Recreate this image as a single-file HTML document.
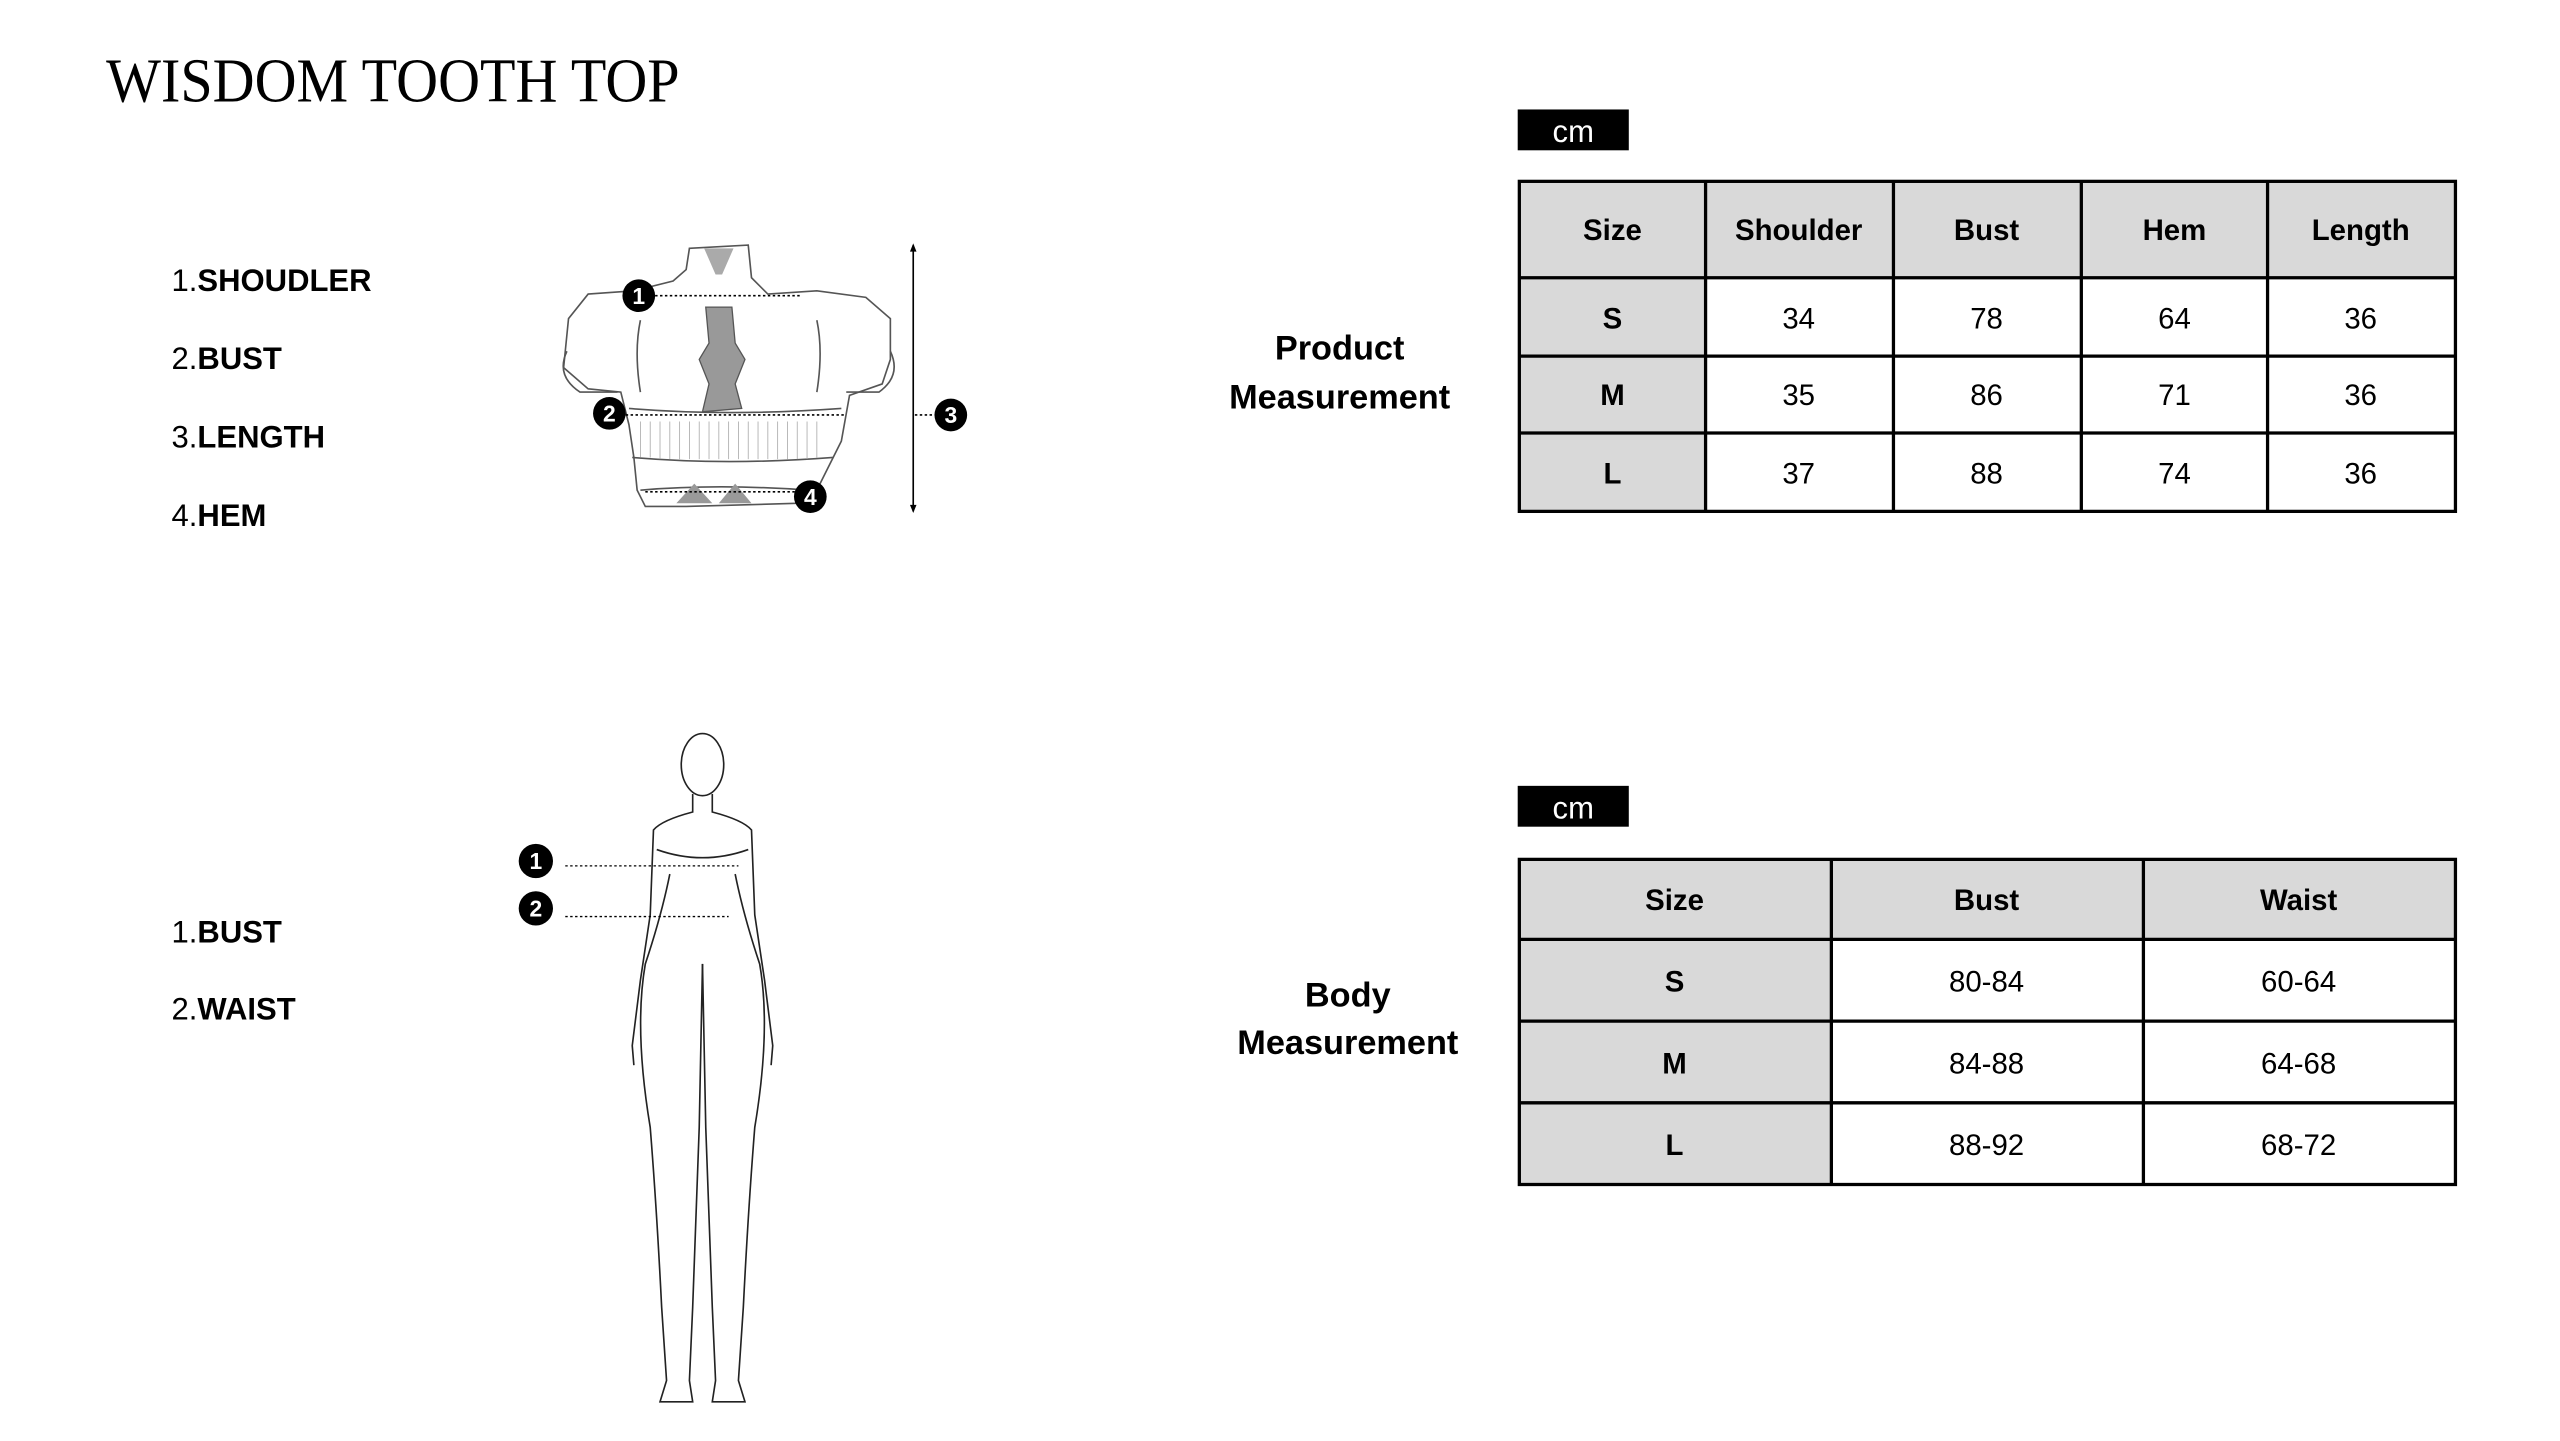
<!DOCTYPE html>
<html><head><meta charset="utf-8"><style>
html,body{margin:0;padding:0;background:#fff;}
svg{display:block}
text{font-family:"Liberation Sans",sans-serif;}
</style></head><body>
<svg width="2560" height="1441" viewBox="0 0 1567 882" preserveAspectRatio="none" xmlns="http://www.w3.org/2000/svg">
<rect width="1567" height="882" fill="#fff"/>
<text x="65" y="62" font-size="38" textLength="351" lengthAdjust="spacingAndGlyphs" style="font-family:'Liberation Serif',serif">WISDOM TOOTH TOP</text>

<g font-size="19">
<text x="105" y="178">1.<tspan font-weight="bold">SHOUDLER</tspan></text>
<text x="105" y="226">2.<tspan font-weight="bold">BUST</tspan></text>
<text x="105" y="274">3.<tspan font-weight="bold">LENGTH</tspan></text>
<text x="105" y="322">4.<tspan font-weight="bold">HEM</tspan></text>
<text x="105" y="577">1.<tspan font-weight="bold">BUST</tspan></text>
<text x="105" y="624">2.<tspan font-weight="bold">WAIST</tspan></text>
</g>

<g fill="none" stroke="#555" stroke-width="1">
<path d="M422 152 L458 150 L460 170 L470 180 L500 178 L530 182 L545 195 L545 220 L540 235 L520 242 L515 270 L505 290 L500 300 L490 308 L420 310 L395 310 L390 300 L388 280 L385 260 L380 240 L360 238 L345 225 L348 195 L360 180 L388 178 L412 172 L420 165 Z" fill="#fff"/>
<path d="M347 215 Q340 230 355 240 L378 240"/>
<path d="M545 215 Q552 230 538 240 L518 240"/>
<path d="M392 196 Q388 215 392 240 M500 196 Q504 215 500 240"/>
<path d="M385 250 Q445 255 515 250 M387 280 Q445 285 510 280"/>
<path d="M392 300 Q440 296 495 300"/>
</g>
<path d="M432 188 L448 188 L450 210 L456 220 L450 235 L454 250 L430 252 L434 235 L428 220 L434 210 Z" fill="#999" stroke="#555" stroke-width="0.8"/>
<path d="M431 152 L449 152 L442 168 L438 168 Z" fill="#aaa"/>
<path d="M414 308 L425 296 L436 308 Z M440 308 L450 296 L460 308 Z" fill="#999"/>
<g stroke="#aaa" stroke-width="0.5">
<path d="M392 258 L392 280 M398 258 L398 280 M404 258 L404 281 M410 258 L410 281 M416 258 L416 281 M422 258 L422 281 M428 258 L428 281 M434 258 L434 281 M440 258 L440 281 M446 258 L446 281 M452 258 L452 281 M458 258 L458 281 M464 258 L464 281 M470 258 L470 281 M476 258 L476 281 M482 258 L482 281 M488 258 L488 281 M494 258 L494 281 M500 258 L500 280"/>
</g>
<g stroke="#000" stroke-width="1" stroke-dasharray="1.5,1.5" fill="none">
<path d="M398 181 L490 181"/>
<path d="M380 254 L518 254"/>
<path d="M395 301 L488 301"/>
<path d="M560 254 L574 254"/>
</g>
<path d="M559 150 L559 313" stroke="#000" stroke-width="1"/>
<path d="M557 154 L559 149 L561 154 Z M557 309 L559 314 L561 309 Z" fill="#000"/>
<g font-size="14" font-weight="bold" fill="#fff" text-anchor="middle">
<circle cx="391" cy="181" r="10" fill="#000"/><text x="391" y="186">1</text>
<circle cx="373" cy="253" r="10" fill="#000"/><text x="373" y="258">2</text>
<circle cx="582" cy="254" r="10" fill="#000"/><text x="582" y="259">3</text>
<circle cx="496" cy="304" r="10" fill="#000"/><text x="496" y="309">4</text>
</g>

<g fill="none" stroke="#222" stroke-width="1">
<ellipse cx="430" cy="468" rx="13" ry="19"/>
<path d="M424 486 L424 497 Q405 502 400 508 L398 560 L392 600 L387 640 L388 652 M436 486 L436 497 Q455 502 460 508 L462 560 L468 600 L473 640 L472 652"/>
<path d="M410 535 Q405 560 395 590 Q388 630 398 690 Q402 740 405 800 L408 845 L404 858 L424 858 L422 845 L424 800 Q426 740 428 690 L430 590"/>
<path d="M450 535 Q455 560 465 590 Q472 630 462 690 Q458 740 455 800 L452 845 L456 858 L436 858 L438 845 L436 800 Q434 740 432 690 L430 590"/>
<path d="M402 520 Q430 530 458 520"/>
</g>
<g stroke="#000" stroke-width="0.8" stroke-dasharray="1.5,1.5">
<path d="M346 530 L452 530"/>
<path d="M346 561 L446 561"/>
</g>
<g font-size="14" font-weight="bold" fill="#fff" text-anchor="middle">
<circle cx="328" cy="527" r="10.5" fill="#000"/><text x="328" y="532">1</text>
<circle cx="328" cy="556" r="10.5" fill="#000"/><text x="328" y="561">2</text>
</g>

<g font-size="21" font-weight="bold" text-anchor="middle">
<text x="820" y="220">Product</text>
<text x="820" y="250">Measurement</text>
<text x="825" y="616">Body</text>
<text x="825" y="645">Measurement</text>
</g>
<rect x="929" y="67" width="68" height="25" fill="#000"/>
<text x="963" y="87" font-size="19" fill="#fff" text-anchor="middle">cm</text>
<rect x="929" y="481" width="68" height="25" fill="#000"/>
<text x="963" y="501" font-size="19" fill="#fff" text-anchor="middle">cm</text>

<g>
<rect x="930" y="111" width="573" height="59" fill="#d9d9d9"/>
<rect x="930" y="170" width="114" height="143" fill="#d9d9d9"/>
<g stroke="#000" stroke-width="2" fill="none">
<rect x="930" y="111" width="573" height="202"/>
<path d="M930 170 H1503 M930 218 H1503 M930 265 H1503 M1044 111 V313 M1159 111 V313 M1274 111 V313 M1388 111 V313"/>
</g>
<g font-size="18" text-anchor="middle">
<g font-weight="bold">
<text x="987" y="147">Size</text><text x="1101" y="147">Shoulder</text><text x="1216" y="147">Bust</text><text x="1331" y="147">Hem</text><text x="1445" y="147">Length</text>
<text x="987" y="201">S</text><text x="987" y="248">M</text><text x="987" y="296">L</text>
</g>
<text x="1101" y="201">34</text><text x="1216" y="201">78</text><text x="1331" y="201">64</text><text x="1445" y="201">36</text>
<text x="1101" y="248">35</text><text x="1216" y="248">86</text><text x="1331" y="248">71</text><text x="1445" y="248">36</text>
<text x="1101" y="296">37</text><text x="1216" y="296">88</text><text x="1331" y="296">74</text><text x="1445" y="296">36</text>
</g>
</g>

<g>
<rect x="930" y="526" width="573" height="49" fill="#d9d9d9"/>
<rect x="930" y="575" width="191" height="150" fill="#d9d9d9"/>
<g stroke="#000" stroke-width="2" fill="none">
<rect x="930" y="526" width="573" height="199"/>
<path d="M930 575 H1503 M930 625 H1503 M930 675 H1503 M1121 526 V725 M1312 526 V725"/>
</g>
<g font-size="18" text-anchor="middle">
<g font-weight="bold">
<text x="1025" y="557">Size</text><text x="1216" y="557">Bust</text><text x="1407" y="557">Waist</text>
<text x="1025" y="607">S</text><text x="1025" y="657">M</text><text x="1025" y="707">L</text>
</g>
<text x="1216" y="607">80-84</text><text x="1407" y="607">60-64</text>
<text x="1216" y="657">84-88</text><text x="1407" y="657">64-68</text>
<text x="1216" y="707">88-92</text><text x="1407" y="707">68-72</text>
</g>
</g>
</svg>
</body></html>
